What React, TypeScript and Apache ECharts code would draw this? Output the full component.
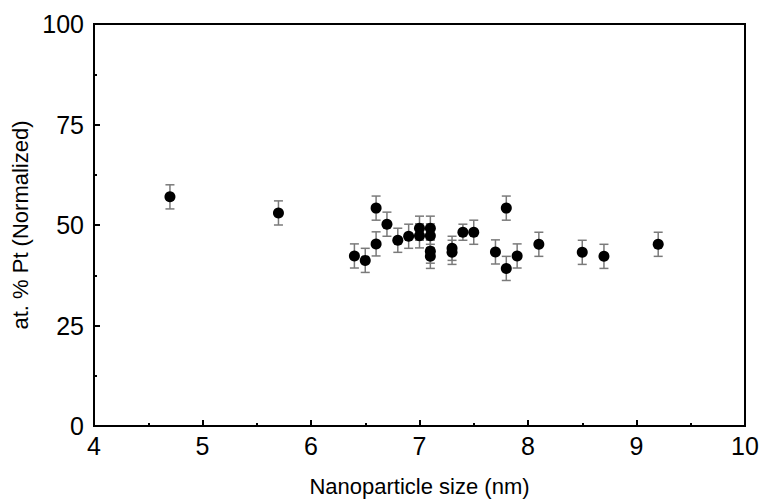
import React, { useEffect, useRef } from "react";
import * as echarts from "echarts";

const sizes = [4.7, 5.7, 6.4, 6.5, 6.6, 6.6, 6.7, 6.8, 6.9, 7.0, 7.0, 7.1, 7.1, 7.1, 7.1, 7.3, 7.3, 7.4, 7.5, 7.7, 7.8, 7.8, 7.9, 8.1, 8.5, 8.7, 9.2];
const ptPercent = [57, 53, 42.3, 41.2, 54.2, 45.3, 50.2, 46.2, 47.2, 49.2, 47.3, 49.2, 47.3, 43.5, 42.2, 44.2, 43.2, 48.2, 48.2, 43.3, 54.2, 39.2, 42.3, 45.2, 43.2, 42.2, 45.2];
const errors = [3, 3, 3, 3, 3, 3, 3, 3, 3, 3, 3, 3, 3, 3, 3, 3, 3, 2, 3, 3, 3, 3, 3, 3, 3, 3, 3];
const xTicks = [4, 5, 6, 7, 8, 9, 10];
const yTicks = [0, 25, 50, 75, 100];

const FONT = "'Liberation Sans', Arial, Helvetica, sans-serif";

export default function App() {
  const ref = useRef<HTMLDivElement>(null);
  useEffect(() => {
    if (!ref.current) return;
    const chart = echarts.init(ref.current, null, { renderer: "svg" });
    const errData = sizes.map((x, i) => [x, ptPercent[i] - errors[i], ptPercent[i] + errors[i]]);
    const pts = sizes.map((x, i) => [x, ptPercent[i]]);
    chart.setOption({
      animation: false,
      backgroundColor: "#ffffff",
      grid: {
        left: 94,
        right: 16,
        top: 24,
        bottom: 73,
        outerBoundsMode: "none",
        containLabel: false,
        show: true,
        borderColor: "#000",
        borderWidth: 2,
        backgroundColor: "transparent",
      },
      xAxis: {
        type: "value",
        min: xTicks[0],
        max: xTicks[xTicks.length - 1],
        interval: 1,
        name: "Nanoparticle size (nm)",
        nameLocation: "middle",
        nameGap: 49,
        nameTextStyle: { fontFamily: FONT, fontSize: 22, color: "#000" },
        axisLine: { show: true, lineStyle: { color: "#000", width: 2 } },
        axisTick: { show: true, inside: true, length: 6, lineStyle: { color: "#000", width: 2 } },
        minorTick: { show: true, splitNumber: 2, length: 3, lineStyle: { color: "#000", width: 2 } },
        splitLine: { show: false },
        minorSplitLine: { show: false },
        axisLabel: { fontFamily: FONT, fontSize: 25, color: "#000", margin: 7 },
      },
      yAxis: {
        type: "value",
        min: yTicks[0],
        max: yTicks[yTicks.length - 1],
        interval: 25,
        name: "at. % Pt (Normalized)",
        nameLocation: "middle",
        nameGap: 61,
        nameTextStyle: { fontFamily: FONT, fontSize: 22, color: "#000" },
        axisLine: { show: true, lineStyle: { color: "#000", width: 2 } },
        axisTick: { show: true, inside: true, length: 6, lineStyle: { color: "#000", width: 2 } },
        minorTick: { show: true, splitNumber: 2, length: 3, lineStyle: { color: "#000", width: 2 } },
        splitLine: { show: false },
        minorSplitLine: { show: false },
        axisLabel: { fontFamily: FONT, fontSize: 25, color: "#000", margin: 10 },
      },
      series: [
        {
          type: "custom",
          data: errData,
          encode: { x: 0, y: [1, 2] },
          z: 2,
          renderItem: (params: any, api: any) => {
            const x = api.value(0);
            const pLo = api.coord([x, api.value(1)]);
            const pHi = api.coord([x, api.value(2)]);
            const w = 4.5;
            const style = { stroke: "#7a7a7a", lineWidth: 1.5 };
            return {
              type: "group",
              children: [
                { type: "line", shape: { x1: pLo[0], y1: pLo[1], x2: pHi[0], y2: pHi[1] }, style },
                { type: "line", shape: { x1: pLo[0] - w, y1: pLo[1], x2: pLo[0] + w, y2: pLo[1] }, style },
                { type: "line", shape: { x1: pHi[0] - w, y1: pHi[1], x2: pHi[0] + w, y2: pHi[1] }, style },
              ],
            };
          },
        },
        {
          type: "scatter",
          data: pts,
          symbol: "circle",
          symbolSize: 11,
          z: 3,
          itemStyle: { color: "#000", opacity: 1 },
        },
      ],
    });
    return () => chart.dispose();
  }, []);
  return <div ref={ref} style={{ width: 761, height: 499, position: "absolute", left: 0, top: 0 }} />;
}
